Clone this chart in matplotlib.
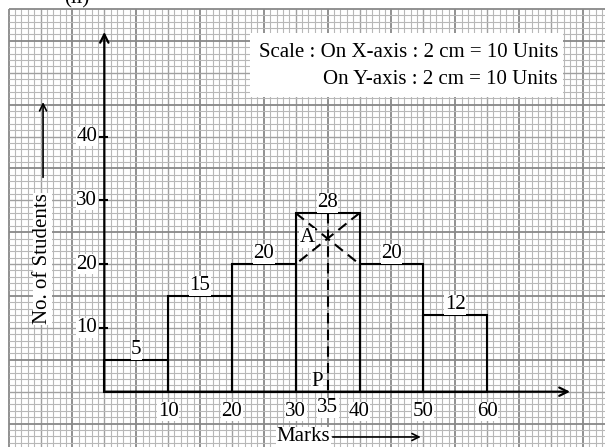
import numpy as np
import matplotlib.pyplot as plt

# histogram data
class_start = [0, 10, 20, 30, 40, 50]
class_width = 10
students = [5, 15, 20, 28, 20, 12]
y_ticks = [10, 20, 30, 40]
x_ticks = [10, 20, 30, 40, 50, 60]

plt.rcParams['font.family'] = ['Liberation Serif', 'DejaVu Serif']
fs = 15

fig = plt.figure(figsize=(6.05, 4.47), dpi=100)
ax = fig.add_axes([0, 0, 1, 1])
xmin, xmax = -16.35, 78.48
ymin, ymax = -8.67, 61.4
ax.set_xlim(xmin, xmax)
ax.set_ylim(ymin, ymax)
ax.axis('off')

# graph paper
paper_left, paper_top = -15, 60
for gx in range(paper_left, int(xmax) + 1):
    if (gx - 5) % 10 == 0:
        c, w = '#888888', 1.3
    elif gx % 5 == 0:
        c, w = '#a0a0a0', 1.0
    else:
        c, w = '#b8b8b8', 0.8
    ax.vlines(gx, ymin, paper_top, colors=c, lw=w, zorder=0)
for gy in range(int(ymin), paper_top + 1):
    if (gy - 5) % 10 == 0 or gy == paper_top:
        c, w = '#888888', 1.3
    elif gy % 5 == 0:
        c, w = '#a0a0a0', 1.0
    else:
        c, w = '#b8b8b8', 0.8
    ax.hlines(gy, paper_left, xmax, colors=c, lw=w, zorder=0)

# bars
ax.bar(class_start, students, width=class_width, align='edge', fill=False,
       edgecolor='black', lw=1.5, zorder=2)

white = dict(facecolor='white', edgecolor='none', pad=0.3)
for s, n in zip(class_start, students):
    ax.text(s + class_width / 2, n + 1.6, str(n), ha='center', va='center',
            fontsize=fs, bbox=white, zorder=4)

# mode construction
m = int(np.argmax(students))
x_l = class_start[m]
x_r = class_start[m] + class_width
h_m, h_prev, h_next = students[m], students[m - 1], students[m + 1]
dash = (0, (5, 3))
ax.plot([x_l, x_r], [h_m, h_next], color='black', lw=1.5, ls=dash, zorder=3)
ax.plot([x_r, x_l], [h_m, h_prev], color='black', lw=1.5, ls=dash, zorder=3)
# intersection A
d1 = h_m - h_prev
d2 = h_m - h_next
mode_x = x_l + d1 / (d1 + d2) * class_width
mode_y = h_prev + (h_m - h_prev) * (mode_x - x_l) / class_width
ax.plot([mode_x, mode_x], [h_m, 0], color='black', lw=1.5, ls=dash, zorder=3)
ax.text(mode_x - 3.2, mode_y + 0.1, 'A', ha='center', va='center',
        fontsize=fs, bbox=white, zorder=4)
ax.text(mode_x - 1.7, 1.6, 'P', ha='center', va='center',
        fontsize=fs, bbox=white, zorder=4)

# axes with arrows
ax.annotate('', xy=(73, 0), xytext=(0, 0), zorder=5,
            arrowprops=dict(arrowstyle='->,head_length=0.6,head_width=0.3',
                            color='black', lw=1.6, shrinkA=0, shrinkB=0))
ax.annotate('', xy=(0, 56.4), xytext=(0, 0), zorder=5,
            arrowprops=dict(arrowstyle='->,head_length=0.6,head_width=0.3',
                            color='black', lw=1.6, shrinkA=0, shrinkB=0))

# ticks and tick labels
ax.hlines(y_ticks, -0.8, 0.5, colors='black', lw=1.5, zorder=5)
for t in y_ticks:
    ax.text(-1.1, t, str(t), ha='right', va='center', fontsize=fs,
            bbox=white, zorder=4)
for t in x_ticks:
    ax.text(t, -3.1, str(t), ha='center', va='center', fontsize=fs,
            bbox=white, zorder=4)
ax.text(mode_x, -2.5, '35', ha='center', va='center', fontsize=fs,
        bbox=white, zorder=4)

# axis titles
ax.text(-9.7, 20.8, 'No. of Students', rotation=90, ha='center', va='center',
        fontsize=fs, bbox=white, zorder=4)
ax.annotate('', xy=(-9.6, 45.4), xytext=(-9.6, 33.6), zorder=5,
            arrowprops=dict(arrowstyle='->,head_length=0.5,head_width=0.25',
                            color='black', lw=1.2, shrinkA=0, shrinkB=0))
ax.text(31.2, -7.1, 'Marks', ha='center', va='center', fontsize=fs,
        bbox=white, zorder=4)
ax.annotate('', xy=(49.6, -7.1), xytext=(35.8, -7.1), zorder=5,
            arrowprops=dict(arrowstyle='->,head_length=0.5,head_width=0.25',
                            color='black', lw=1.2, shrinkA=0, shrinkB=0))

# scale box
ax.add_patch(plt.Rectangle((22.8, 46.2), 49.1, 10.0, facecolor='white',
                           edgecolor='none', zorder=3))
ax.text(71.1, 53.2, 'Scale : On X-axis : 2 cm = 10 Units', ha='right',
        va='center', fontsize=fs, zorder=4)
ax.text(71.1, 48.9, 'On Y-axis : 2 cm = 10 Units', ha='right',
        va='center', fontsize=fs, zorder=4)

# part label, cut at the top edge as in the source
ax.text(-4.3, 61.6, '(ii)', ha='center', va='center', fontsize=fs,
        zorder=4, clip_on=False)

fig.savefig('out.png', dpi=100)
